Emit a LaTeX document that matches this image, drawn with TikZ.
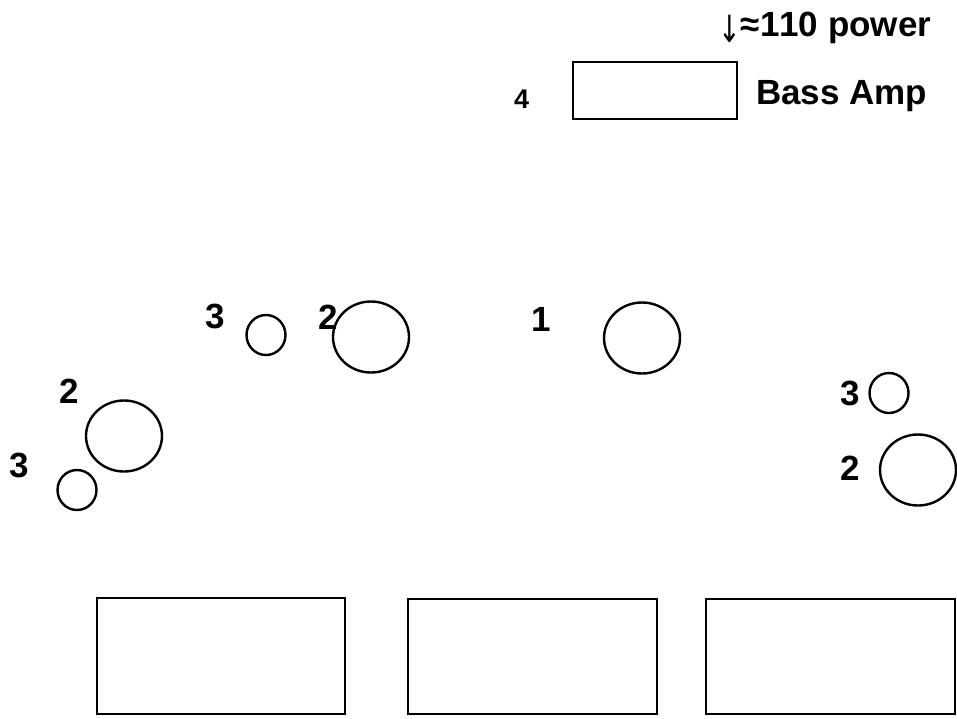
\documentclass[tikz,border=0pt]{standalone}
\usepackage{fontspec}
\setmainfont[Kerning=Off]{Liberation Sans}
\newfontfamily\arrowfont{DejaVu Sans}
\usetikzlibrary{shapes.geometric}
\begin{document}
\begin{tikzpicture}[x=1pt,y=-1pt,
  lbl/.style={font=\fontsize{35}{35}\selectfont\bfseries, inner sep=0pt, anchor=base west},
  numlbl/.style={font=\fontsize{35}{35}\selectfont\bfseries, inner sep=0pt, anchor=base west},
  smalllbl/.style={font=\fontsize{27}{27}\selectfont\bfseries, inner sep=0pt, anchor=base west},
  spk/.style={draw, ellipse, line width=2.4pt, inner sep=0pt, minimum width=76pt, minimum height=71pt},
  tweeter/.style={draw, ellipse, line width=2.4pt, inner sep=0pt, minimum width=39pt, minimum height=40pt},
  boxnode/.style={draw, rectangle, line width=2.4pt, inner sep=0pt, anchor=north west},
]
\fill[white] (0,0) rectangle (957,718);
\useasboundingbox (0,0) rectangle (957,718);

% top: bass amp
\node[lbl] (power) at (718,36) {{\arrowfont\mdseries\fontsize{30}{30}\selectfont\raisebox{-6pt}{\scalebox{0.9}[1.25]{↓}}}≈110 power};
\node[boxnode, minimum width=164pt, minimum height=57pt] (amp) at (572,61) {};
\node[smalllbl] (four) at (514,108) {4};
\node[lbl] (bassamp) at (756,104) {Bass Amp};

% speakers
\node[spk] (c1) at (642,338) {};
\node[numlbl] (l1) at (531,331) {1};

\node[tweeter] (c3a) at (266,335) {};
\node[numlbl] (l3a) at (205,328) {3};
\node[spk] (c2a) at (371,337) {};
\node[numlbl] (l2a) at (318,329) {2};

\node[spk] (c2b) at (124,436) {};
\node[numlbl] (l2b) at (59,403) {2};
\node[tweeter] (c3b) at (77,490) {};
\node[numlbl] (l3b) at (9,477) {3};

\node[tweeter] (c3c) at (889,393) {};
\node[numlbl] (l3c) at (840,405) {3};
\node[spk] (c2c) at (918,470) {};
\node[numlbl] (l2c) at (840,480) {2};

% bottom boxes
\node[boxnode, minimum width=248pt, minimum height=116pt] (b1) at (96,597) {};
\node[boxnode, minimum width=249pt, minimum height=115pt] (b2) at (407,598) {};
\node[boxnode, minimum width=249pt, minimum height=115pt] (b3) at (705,598) {};
\end{tikzpicture}
\end{document}
